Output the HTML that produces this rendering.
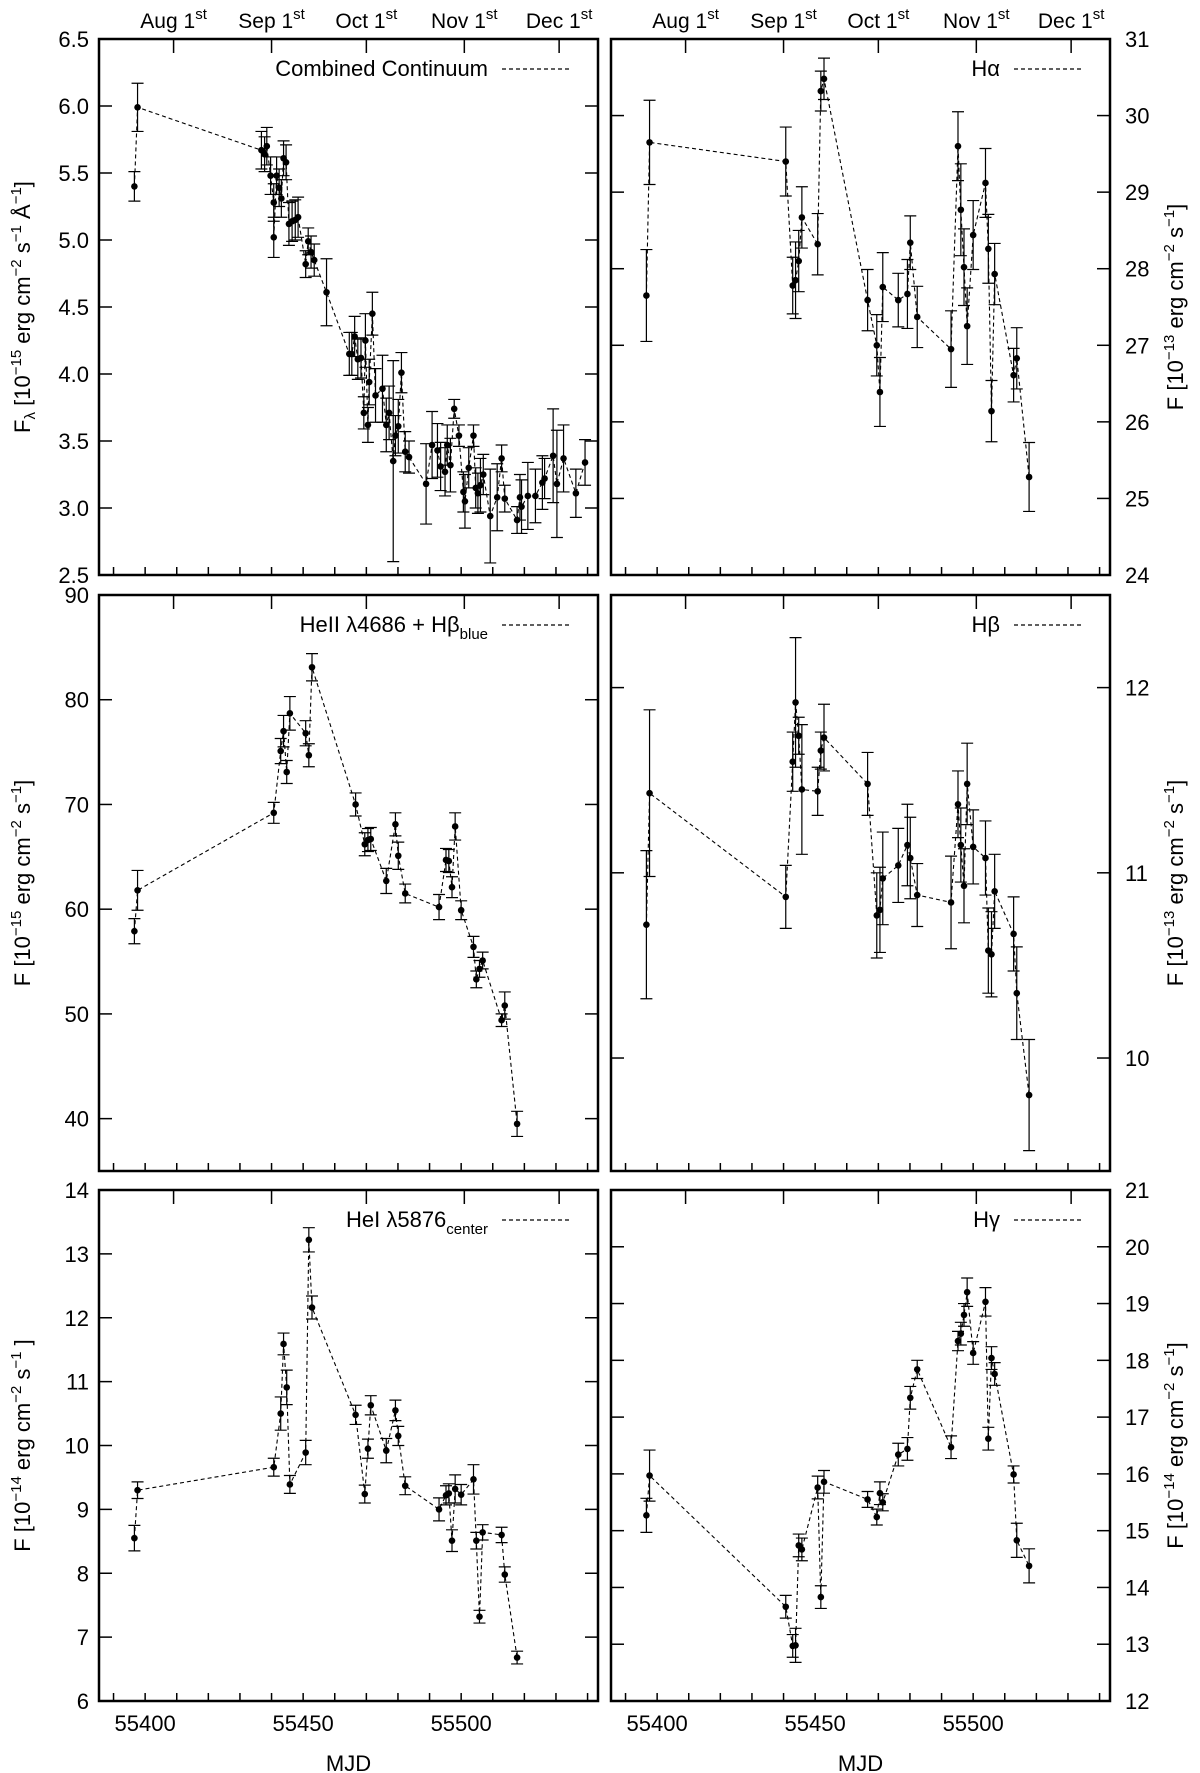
<!DOCTYPE html>
<html><head><meta charset="utf-8"><style>
body{margin:0;background:#fff}
svg{display:block;font-family:"Liberation Sans",sans-serif}
</style></head><body>
<svg id="fig" width="1200" height="1773" viewBox="0 0 1200 1773" xmlns="http://www.w3.org/2000/svg"></svg>
<script>
// ---------- data ----------
const contMJD=[55396.6,55397.6,55436.8,55437.8,55438.5,55439.7,55440.7,55440.7,55441.6,55442.4,55443.1,55443.8,55444.6,55445.5,55446.5,55447.5,55448.4,55450.8,55451.6,55452.5,55453.5,55457.4,55464.6,55465.4,55466.3,55467.3,55468.3,55469.2,55469.7,55470.5,55470.9,55471.9,55472.9,55475.1,55476.3,55477.2,55478.5,55479.2,55480.1,55481.1,55482.3,55483.5,55488.9,55490.8,55492.5,55493.5,55494.9,55495.6,55496.6,55497.8,55499.3,55500.7,55501.2,55502.4,55503.9,55504.6,55505.3,55506.1,55507.0,55509.2,55511.4,55512.8,55513.8,55517.7,55518.6,55519.1,55521.1,55523.5,55525.7,55526.4,55529.1,55530.3,55532.4,55536.3,55539.2];
const contVal=[5.40,5.99,5.67,5.64,5.70,5.48,5.28,5.02,5.48,5.39,5.31,5.61,5.58,5.12,5.14,5.15,5.17,4.82,4.99,4.91,4.85,4.61,4.15,4.15,4.28,4.11,4.12,3.71,4.25,3.62,3.94,4.45,3.84,3.89,3.62,3.71,3.35,3.54,3.61,4.01,3.42,3.38,3.18,3.47,3.43,3.31,3.27,3.47,3.32,3.74,3.54,3.12,3.05,3.30,3.54,3.15,3.11,3.17,3.25,2.94,3.08,3.37,3.07,2.91,3.08,3.01,3.09,3.09,3.19,3.22,3.39,3.18,3.37,3.11,3.34];
const contErr=[0.11,0.18,0.14,0.13,0.14,0.14,0.14,0.15,0.14,0.14,0.14,0.13,0.13,0.16,0.15,0.15,0.15,0.1,0.1,0.12,0.12,0.25,0.16,0.16,0.15,0.15,0.15,0.12,0.2,0.13,0.17,0.16,0.2,0.25,0.2,0.2,0.75,0.15,0.2,0.15,0.15,0.12,0.3,0.25,0.2,0.18,0.18,0.15,0.2,0.07,0.08,0.15,0.2,0.15,0.08,0.15,0.15,0.2,0.15,0.35,0.25,0.1,0.1,0.1,0.17,0.2,0.25,0.2,0.2,0.15,0.35,0.4,0.25,0.18,0.17];

const lineMJD=[55396.6,55397.6,55440.7,55442.9,55443.8,55444.8,55445.8,55450.8,55451.8,55452.8,55466.6,55469.5,55470.5,55471.4,55476.3,55479.2,55480.1,55482.3,55493.0,55495.2,55496.1,55497.1,55498.1,55500.0,55503.9,55504.8,55505.8,55506.8,55512.8,55513.8,55517.7];
const haVal=[27.65,29.65,29.4,27.78,27.85,28.1,28.67,28.32,30.32,30.48,27.59,27.0,26.39,27.76,27.59,27.67,28.34,27.37,26.95,29.6,28.77,28.02,27.25,28.44,29.12,28.26,26.14,27.93,26.61,26.83,25.28];
const haErr=[0.6,0.55,0.45,0.37,0.5,0.4,0.4,0.4,0.26,0.27,0.4,0.4,0.45,0.45,0.35,0.45,0.35,0.4,0.5,0.45,0.6,0.5,0.5,0.45,0.45,0.45,0.4,0.4,0.35,0.4,0.45];
const heiiVal=[57.9,61.8,69.2,75.1,77.0,73.1,78.7,76.8,74.7,83.1,70.0,66.2,66.6,66.7,62.7,68.1,65.1,61.5,60.2,64.7,64.6,62.1,67.9,59.9,56.4,53.3,54.3,55.1,49.4,50.8,39.5];
const heiiErr=[1.2,1.9,1.0,1.2,1.5,1.1,1.6,1.2,1.1,1.3,1.1,1.1,1.1,1.1,1.2,1.1,1.3,0.9,1.2,1.1,1.1,1.0,1.3,0.9,1.0,0.8,0.8,0.8,0.6,1.3,1.2];
const hbVal=[10.72,11.43,10.87,11.6,11.92,11.74,11.45,11.44,11.66,11.73,11.48,10.77,10.8,10.97,11.04,11.15,11.08,10.88,10.84,11.37,11.15,10.93,11.48,11.14,11.08,10.58,10.56,10.9,10.67,10.35,9.8];
const hbErr=[0.4,0.45,0.17,0.16,0.35,0.1,0.35,0.13,0.1,0.18,0.17,0.23,0.23,0.25,0.2,0.22,0.22,0.17,0.25,0.18,0.2,0.2,0.22,0.2,0.2,0.23,0.23,0.2,0.2,0.25,0.3];
const heiVal=[8.55,9.3,9.66,10.5,11.59,10.91,9.39,9.89,13.22,12.16,10.48,9.24,9.95,10.63,9.92,10.55,10.15,9.37,9.0,9.22,9.25,8.51,9.32,9.23,9.47,8.51,7.32,8.64,8.6,7.98,6.68];
const heiErr=[0.2,0.13,0.14,0.26,0.17,0.27,0.14,0.19,0.19,0.18,0.15,0.14,0.15,0.15,0.19,0.16,0.15,0.14,0.18,0.15,0.15,0.17,0.22,0.16,0.23,0.13,0.1,0.12,0.12,0.12,0.1];
const hgVal=[15.27,15.97,13.66,12.97,12.98,14.74,14.67,15.76,13.83,15.86,15.55,15.24,15.66,15.5,16.34,16.44,17.34,17.84,16.47,18.34,18.47,18.8,19.2,18.13,19.03,16.62,18.04,17.76,15.99,14.83,14.38];
const hgErr=[0.3,0.45,0.2,0.2,0.3,0.2,0.2,0.2,0.2,0.2,0.14,0.14,0.2,0.15,0.2,0.2,0.2,0.16,0.2,0.17,0.2,0.2,0.25,0.2,0.25,0.2,0.2,0.2,0.15,0.3,0.3];

const monthMJD=[55409,55440,55470,55501,55531];
const monthNames=["Aug 1","Sep 1","Oct 1","Nov 1","Dec 1"];
const xTicks=[55400,55450,55500];

// ---------- drawing ----------
const NS="http://www.w3.org/2000/svg";
const svg=document.getElementById('fig');
function el(tag,attrs,parent){const e=document.createElementNS(NS,tag);for(const k in attrs)e.setAttribute(k,attrs[k]);(parent||svg).appendChild(e);return e;}
const XMIN=55385.4,XMAX=55543.3;
function fmt(v,dec){return dec?v.toFixed(1):String(v);}

function panel(o){
  const g=el('g',{});
  
  
  const L=o.x0,R=o.x1,T=o.y0,B=o.y1;
  const xs=m=>L+(m-XMIN)/(XMAX-XMIN)*(R-L);
  const ysL=v=>B-(v-o.lmin)/(o.lmax-o.lmin)*(B-T);
  const ysR=v=>B-(v-o.rmin)/(o.rmax-o.rmin)*(B-T);
  const ys=o.side==='left'?ysL:ysR;
  const ax=el('g',{stroke:'#000','stroke-width':1.5},g);
  
  
  // bottom minor ticks every 10 days
  for(let m=55390;m<=55540;m+=10){const x=xs(m);el('line',{x1:x,y1:B,x2:x,y2:B-8},ax);}
  // top month ticks
  monthMJD.forEach(m=>{const x=xs(m);el('line',{x1:x,y1:T,x2:x,y2:T+14},ax);});
  // y ticks
  const ticks=o.side==='left'?o.lt:o.rt;
  ticks.forEach(v=>{const y=ys(v);el('line',{x1:L,y1:y,x2:L+13,y2:y},ax);el('line',{x1:R,y1:y,x2:R-13,y2:y},ax);});
  // tick labels
  ticks.forEach(v=>{
    const y=ys(v);
    const t=el('text',{x:o.side==='left'?L-10:R+15,y:y+8,'font-size':22,'text-anchor':o.side==='left'?'end':'start'},g);
    t.textContent=fmt(v,o.dec);
    
    
  });
  if(o.xlabels){xTicks.forEach(m=>{const t=el('text',{x:xs(m),y:1731,'font-size':22,'text-anchor':'middle'},g);t.textContent=String(m);
    
    });
    const t=el('text',{x:(L+R)/2,y:1771,'font-size':22,'text-anchor':'middle'},g);t.textContent='MJD';
    
    
  }
  if(o.months){monthMJD.forEach((m,i)=>{const t=el('text',{x:xs(m),y:28,'font-size':21,'text-anchor':'middle'},g);
    t.innerHTML=monthNames[i]+'<tspan dy="-9" font-size="15">st</tspan>';
    
    });}
  // series
  const d=o.mjd.map((m,i)=>[m,o.val[i],o.err[i]]).sort((a,b)=>a[0]-b[0]);
  const pts=d.map(p=>xs(p[0]).toFixed(1)+','+ys(p[1]).toFixed(1)).join(' ');
  const pl=el('polyline',{points:pts,fill:'none',stroke:'#000','stroke-width':1.1,'stroke-dasharray':'4,3'},g);
  
  
  d.forEach(p=>{
    const x=xs(p[0]),y1=ys(p[1]+p[2]),y2=ys(p[1]-p[2]);
    const e=el('path',{d:`M${x-6},${y1}H${x+6}M${x},${y1}V${y2}M${x-6},${y2}H${x+6}`,stroke:'#000','stroke-width':1.2,fill:'none'},g);
    
    
    const c=el('circle',{cx:x,cy:ys(p[1]),r:3.3,fill:'#000'},g);
    
    
  });
  // frame
  const fr=el('rect',{x:L,y:T,width:R-L,height:B-T,fill:'none',stroke:'#000','stroke-width':2.5},g);
  
  
  // legend
  const lt=el('text',{x:R-110,y:T+37,'font-size':22,'text-anchor':'end'},g);
  lt.innerHTML=o.legend;
  
  
  const ll=el('line',{x1:R-96,y1:T+30,x2:R-28,y2:T+30,stroke:'#000','stroke-width':1.2,'stroke-dasharray':'4,3'},g);
  
  
  // axis title
  const tx=o.side==='left'?30:1183, ty=(T+B)/2;
  const at=el('text',{x:tx,y:ty,'font-size':22,'text-anchor':'middle',transform:`rotate(-90 ${tx} ${ty})`},g);
  at.innerHTML=o.title;
  
  
}
const sup=s=>`<tspan dy="-9" font-size="15">${s}</tspan><tspan dy="9"> </tspan>`;
const Lx=[99,598],Rx=[611,1110];
const P1=[39,575],P2=[595,1171],P3=[1190,1701];

panel({name:'continuum-panel',x0:Lx[0],x1:Lx[1],y0:P1[0],y1:P1[1],side:'left',lmin:2.5,lmax:6.5,lt:[2.5,3,3.5,4,4.5,5,5.5,6,6.5],dec:true,months:true,
  mjd:contMJD,val:contVal,err:contErr,legend:'Combined Continuum',
  title:'F<tspan dy="5" font-size="15">λ</tspan><tspan dy="-5"> [10</tspan>'+sup('−15')+'erg cm'+sup('−2')+'s'+sup('−1')+'Å'+'<tspan dy="-9" font-size="15">−1</tspan><tspan dy="9">]</tspan>'});
panel({name:'halpha-panel',x0:Rx[0],x1:Rx[1],y0:P1[0],y1:P1[1],side:'right',rmin:24,rmax:31,rt:[24,25,26,27,28,29,30,31],months:true,
  mjd:lineMJD,val:haVal,err:haErr,legend:'Hα',
  title:'F [10'+sup('−13')+'erg cm'+sup('−2')+'s'+'<tspan dy="-9" font-size="15">−1</tspan><tspan dy="9">]</tspan>'});
panel({name:'heii-panel',x0:Lx[0],x1:Lx[1],y0:P2[0],y1:P2[1],side:'left',lmin:35,lmax:90,lt:[40,50,60,70,80,90],
  mjd:lineMJD,val:heiiVal,err:heiiErr,legend:'HeII λ4686 + Hβ<tspan dy="7" font-size="15">blue</tspan>',
  title:'F [10'+sup('−15')+'erg cm'+sup('−2')+'s'+'<tspan dy="-9" font-size="15">−1</tspan><tspan dy="9">]</tspan>'});
panel({name:'hbeta-panel',x0:Rx[0],x1:Rx[1],y0:P2[0],y1:P2[1],side:'right',rmin:9.39,rmax:12.5,rt:[10,11,12],
  mjd:lineMJD,val:hbVal,err:hbErr,legend:'Hβ',
  title:'F [10'+sup('−13')+'erg cm'+sup('−2')+'s'+'<tspan dy="-9" font-size="15">−1</tspan><tspan dy="9">]</tspan>'});
panel({name:'hei-panel',x0:Lx[0],x1:Lx[1],y0:P3[0],y1:P3[1],side:'left',lmin:6,lmax:14,lt:[6,7,8,9,10,11,12,13,14],xlabels:true,
  mjd:lineMJD,val:heiVal,err:heiErr,legend:'HeI λ5876<tspan dy="7" font-size="15">center</tspan>',
  title:'F [10'+sup('−14')+'erg cm'+sup('−2')+'s'+sup('−1')+']'});
panel({name:'hgamma-panel',x0:Rx[0],x1:Rx[1],y0:P3[0],y1:P3[1],side:'right',rmin:12,rmax:21,rt:[12,13,14,15,16,17,18,19,20,21],xlabels:true,
  mjd:lineMJD,val:hgVal,err:hgErr,legend:'Hγ',
  title:'F [10'+sup('−14')+'erg cm'+sup('−2')+'s'+'<tspan dy="-9" font-size="15">−1</tspan><tspan dy="9">]</tspan>'});
</script>
</body></html>
